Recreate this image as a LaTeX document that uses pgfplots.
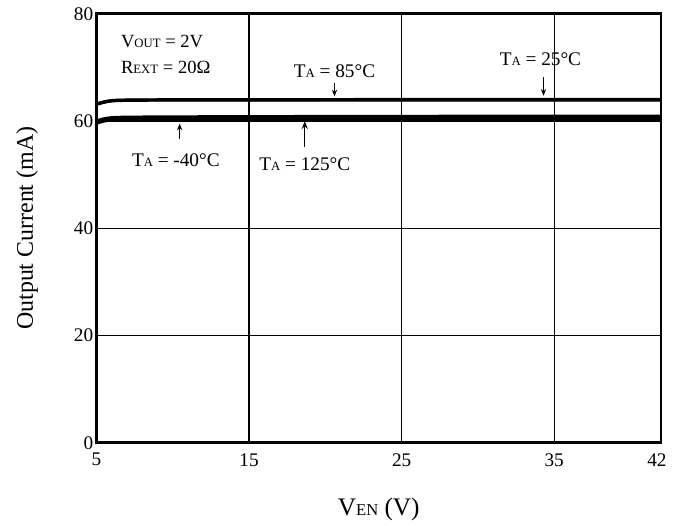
\documentclass[border=0pt]{standalone}
\usepackage{pgfplots}
\pgfplotsset{compat=1.18}
\usepackage{fontspec}
\setmainfont{Liberation Serif}
\usetikzlibrary{arrows.meta}
\newcommand\sub[1]{{\fontsize{9.6}{10}\selectfont #1}}
\newcommand\bigsub[1]{{\fontsize{12.5}{13}\selectfont #1}}

\begin{document}
\begin{tikzpicture}
\begin{axis}[
  scale only axis, width=425pt, height=323pt,
  xmin=5, xmax=42, ymin=0, ymax=80,
  xtick={5,15,25,35,42},
  xticklabels={5,15,25,35,42\hspace*{6pt}},
  ytick={0,20,40,60,80},
  grid=major, major grid style={black, line width=0.9pt},
  axis line style={line width=2pt},
  major tick length=0pt,
  tick label style={font=\fontsize{14.5}{16}\selectfont},
  /pgf/number format/assume math mode=true,
  xticklabel style={yshift=-4.5pt},
  yticklabel style={xshift=1pt},
  every axis x label/.style={at={(axis description cs:0.5,-0.155)}, anchor=center},
  every axis y label/.style={at={(axis description cs:-0.123,0.5)}, anchor=center, rotate=90},
  xlabel={\fontsize{19}{20}\selectfont V\bigsub{EN} (V)},
  ylabel={\fontsize{18}{20}\selectfont Output Current (mA)},
  clip=false,
]
% T_A = 85 C
\addplot[black, line width=2.4pt, smooth] coordinates {
  (5,63.1) (5.5,63.5) (6,63.75) (7,63.85) (10,63.9) (15,63.9) (25,63.9) (35,63.9) (42,63.9)};
% T_A = 25 C
\addplot[black, line width=2.4pt, smooth] coordinates {
  (5,63.2) (5.5,63.55) (6,63.8) (7,63.9) (10,63.95) (15,63.95) (25,64.0) (35,64.0) (42,64.0)};
% T_A = -40 C
\addplot[black, line width=2.4pt, smooth] coordinates {
  (5,59.6) (5.5,60.0) (6,60.2) (7,60.3) (10,60.35) (15,60.4) (25,60.45) (35,60.5) (42,60.5)};
% T_A = 125 C
\addplot[black, line width=2.4pt, smooth] coordinates {
  (5,60.0) (5.5,60.4) (6,60.6) (7,60.7) (10,60.75) (15,60.8) (25,60.85) (35,60.9) (42,60.9)};

\node[anchor=west, font=\fontsize{14}{16}\selectfont] at (axis cs:6.3,74.8) {V\sub{OUT} = 2V};
\node[anchor=west, font=\fontsize{14}{16}\selectfont] at (axis cs:6.3,70.0) {R\sub{EXT} = 20Ω};

\node[font=\fontsize{14.5}{16}\selectfont] at (axis cs:20.6,69.2) {T\sub{A} = 85°C};
\draw[-{Stealth[length=5pt,width=4pt]}, line width=0.8pt] (axis cs:20.6,67.0) -- (axis cs:20.6,64.6);
\node[font=\fontsize{14.5}{16}\selectfont] at (axis cs:34.1,71.6) {T\sub{A} = 25°C};
\draw[-{Stealth[length=5pt,width=4pt]}, line width=0.8pt] (axis cs:34.3,68.2) -- (axis cs:34.3,64.7);
\node[font=\fontsize{14.5}{16}\selectfont] at (axis cs:10.2,52.6) {T\sub{A} = -40°C};
\draw[-{Stealth[length=5pt,width=4pt]}, line width=0.8pt] (axis cs:10.45,56.6) -- (axis cs:10.45,59.5);
\node[font=\fontsize{14.5}{16}\selectfont] at (axis cs:18.65,52.0) {T\sub{A} = 125°C};
\draw[-{Stealth[length=6pt,width=4.5pt]}, line width=1pt] (axis cs:18.65,55.1) -- (axis cs:18.65,60.0);

\coordinate (bl) at (rel axis cs:-0.171,-0.188);
\coordinate (tr) at (rel axis cs:1.026,1.032);
\end{axis}
\path (bl) rectangle (tr);
\end{tikzpicture}
\end{document}
